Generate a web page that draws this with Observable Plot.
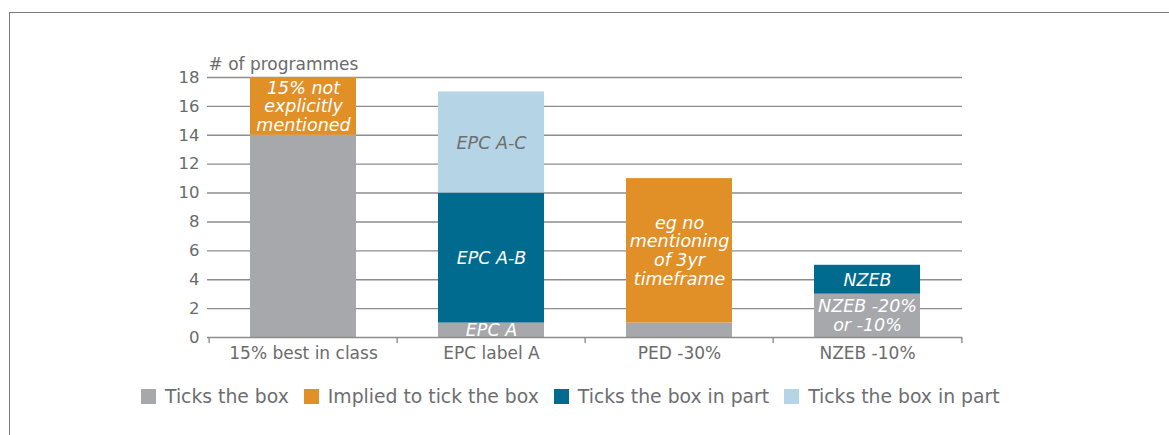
<!DOCTYPE html>
<html>
<head>
<meta charset="utf-8">
<script src="https://cdn.jsdelivr.net/npm/d3@7"></script>
<script src="https://cdn.jsdelivr.net/npm/@observablehq/plot@0.6"></script>
<style>
  html, body { margin: 0; padding: 0; background: #ffffff; }
  body { width: 1169px; height: 435px; position: relative; overflow: hidden; font-family: "DejaVu Sans", Verdana, sans-serif; }
  #frame { position: absolute; left: 9px; top: 12px; width: 1200px; height: 500px;
           border-top: 1.5px solid #7b7b7b; border-left: 1.5px solid #7b7b7b; box-sizing: border-box; }
  #chart { position: absolute; left: 0; top: 0; }
  #legend { position: absolute; left: 141px; top: 386px; display: flex; align-items: center;
            font-size: 18.8px; color: #6d6e71; white-space: nowrap; }
  #legend .item { display: flex; align-items: center; margin-right: 15px; }
  #legend .sw { width: 15px; height: 15px; margin-right: 9px; }
</style>
</head>
<body>
<div id="frame"></div>
<div id="chart"></div>
<div id="legend"></div>
<script>
// ---- data ----
const categories = ["15% best in class", "EPC label A", "PED -30%", "NZEB -10%"];
const seriesKeys = ["ticks", "implied", "partDark", "partLight"];
const seriesLabels = ["Ticks the box", "Implied to tick the box", "Ticks the box in part", "Ticks the box in part"];
const seriesColors = ["#a7a8ab", "#e19028", "#006a8f", "#b5d4e5"];

const ticksBox  = [14, 1, 1, 3];
const implied   = [4, 0, 10, 0];
const partDark  = [0, 9, 0, 2];
const partLight = [0, 7, 0, 0];

const labelsTicks     = ["", "EPC A", "", "NZEB -20%\nor -10%"];
const labelsImplied   = ["15% not\nexplicitly\nmentioned", "", "eg no\nmentioning\nof 3yr\ntimeframe", ""];
const labelsPartDark  = ["", "EPC A-B", "", "NZEB"];
const labelsPartLight = ["", "EPC A-C", "", ""];

const yTicks = [0, 2, 4, 6, 8, 10, 12, 14, 16, 18];
const yTitle = "# of programmes";

// ---- build table ----
const seriesValues = [ticksBox, implied, partDark, partLight];
const seriesText = [labelsTicks, labelsImplied, labelsPartDark, labelsPartLight];
const rows = [];
categories.forEach((cat, ci) => {
  seriesKeys.forEach((key, si) => {
    rows.push({cat, series: key, value: seriesValues[si][ci], label: seriesText[si][ci]});
  });
});

const W = 1169, H = 370;
const mL = 207, mR = 207, mT = 77, mB = 33;
const step = (W - mL - mR) / categories.length;
const barInset = 41;
const gridColor = "#8d8d8d";
const font = "DejaVu Sans, Verdana, sans-serif";

const chart = Plot.plot({
  width: W,
  height: H,
  marginLeft: mL,
  marginRight: mR,
  marginTop: mT,
  marginBottom: mB,
  style: {fontFamily: font, fontSize: "17px", color: "#6b6b6b", background: "transparent", overflow: "visible"},
  x: {domain: categories, padding: 0, label: null, tickSize: 0, tickPadding: 9},
  y: {domain: [0, 18], ticks: yTicks, tickSize: 0, tickPadding: 8, label: null},
  color: {domain: seriesKeys, range: seriesColors},
  marks: [
    Plot.ruleY(yTicks.filter(d => d > 0), {stroke: gridColor, strokeWidth: 1.4}),
    Plot.barY(rows, {x: "cat", y: "value", fill: "series", insetLeft: barInset, insetRight: barInset}),
    Plot.ruleY([0], {stroke: gridColor, strokeWidth: 1.4}),
    Plot.ruleX(categories, {x: d => d, y1: d => 0, y2: d => 0, insetBottom: -6, dx: -step / 2, stroke: gridColor, strokeWidth: 1.4}),
    Plot.ruleX(categories.slice(-1), {x: d => d, y1: d => 0, y2: d => 0, insetBottom: -6, dx: step / 2, stroke: gridColor, strokeWidth: 1.4}),
    Plot.text(rows, Plot.stackY({x: "cat", y: "value", z: "series",
      text: d => d.series !== "partLight" ? d.label : "",
      fill: "white", fontStyle: "italic", fontSize: 17.5, lineHeight: 1.07})),
    Plot.text(rows, Plot.stackY({x: "cat", y: "value", z: "series",
      text: d => d.series === "partLight" ? d.label : "",
      fill: "#6d6e71", fontStyle: "italic", fontSize: 17.5, lineHeight: 1.07})),
    Plot.text([yTitle], {frameAnchor: "top-left", text: d => d, textAnchor: "start", lineAnchor: "bottom",
      dx: 1, dy: -8, fontSize: 17, fill: "#6b6b6b"})
  ]
});
chart.querySelectorAll("g[aria-label='y-axis'] text, g[aria-label='y-axis tick label'] text").forEach(t => t.setAttribute("font-size", "16.5"));
document.getElementById("chart").appendChild(chart);

// ---- legend ----
const legend = document.getElementById("legend");
seriesKeys.forEach((k, i) => {
  const item = document.createElement("div");
  item.className = "item";
  const sw = document.createElement("span");
  sw.className = "sw";
  sw.style.background = seriesColors[i];
  const lab = document.createElement("span");
  lab.textContent = seriesLabels[i];
  item.appendChild(sw);
  item.appendChild(lab);
  legend.appendChild(item);
});
</script>
</body>
</html>
